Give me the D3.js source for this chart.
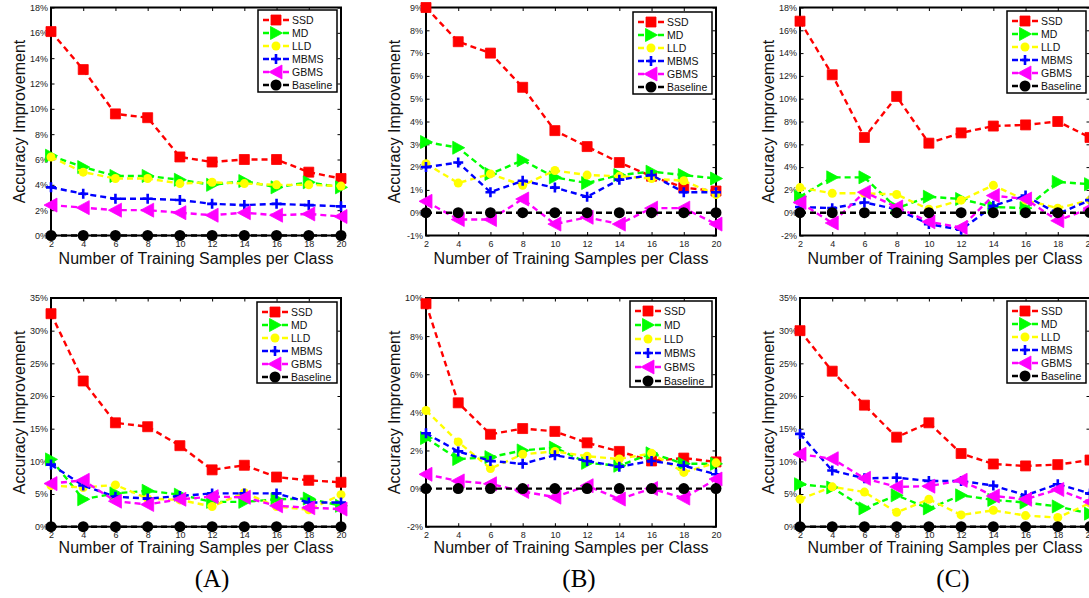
<!DOCTYPE html>
<html>
<head>
<meta charset="utf-8">
<script src="https://cdn.jsdelivr.net/npm/d3@7"></script>
<style>
  html, body { margin: 0; padding: 0; background: #fff; }
  svg { display: block; }
</style>
</head>
<body>
<svg id="chart" width="1089" height="598"></svg>
<script>
// ---------------- DATA ----------------
const xSamples = [2, 4, 6, 8, 10, 12, 14, 16, 18, 20];
const seriesNames = ["SSD", "MD", "LLD", "MBMS", "GBMS", "Baseline"];
const panelLabels = ["(A)", "(B)", "(C)"];
const xAxisTitle = "Number of Training Samples per Class";
const yAxisTitle = "Accuracy Improvement";

// series order: SSD, MD, LLD, MBMS, GBMS, Baseline (values in %)
const topA = [
  [16.1, 13.1, 9.6, 9.3, 6.2, 5.8, 6.0, 6.0, 5.0, 4.5],
  [6.3, 5.4, 4.7, 4.7, 4.4, 4.0, 4.3, 3.8, 4.2, 3.8],
  [6.2, 5.0, 4.5, 4.5, 4.1, 4.2, 4.1, 4.0, 4.0, 3.9],
  [3.8, 3.3, 2.9, 2.9, 2.8, 2.5, 2.4, 2.5, 2.4, 2.3],
  [2.4, 2.2, 2.0, 2.0, 1.8, 1.6, 1.8, 1.6, 1.7, 1.5],
  [0, 0, 0, 0, 0, 0, 0, 0, 0, 0]
];
const topB = [
  [9.0, 7.5, 7.0, 5.5, 3.6, 2.9, 2.2, 1.6, 1.1, 0.95],
  [3.1, 2.85, 1.7, 2.3, 1.55, 1.3, 1.65, 1.8, 1.65, 1.5],
  [2.15, 1.3, 1.7, 1.2, 1.85, 1.65, 1.6, 1.5, 1.4, 0.8],
  [2.0, 2.2, 0.9, 1.4, 1.1, 0.7, 1.45, 1.65, 0.9, 0.9],
  [0.5, -0.3, -0.3, 0.6, -0.5, -0.2, -0.5, 0.2, 0.2, -0.5],
  [0, 0, 0, 0, 0, 0, 0, 0, 0, 0]
];
const topC = [
  [16.8, 12.1, 6.6, 10.2, 6.1, 7.0, 7.6, 7.7, 8.0, 6.6],
  [1.4, 3.1, 3.1, 0.4, 1.4, 1.2, 0.5, 0.4, 2.7, 2.5],
  [2.2, 1.7, 1.7, 1.6, 0.3, 1.1, 2.4, 1.1, 0.4, 1.1],
  [0.5, 0.4, 0.9, 0.3, -1.0, -1.5, 0.6, 1.5, -0.1, 1.1],
  [0.9, -0.9, 1.8, 0.5, -0.8, -1.3, 1.5, 1.2, -0.7, 0.4],
  [0, 0, 0, 0, 0, 0, 0, 0, 0, 0]
];
const botA = [
  [32.6, 22.3, 15.9, 15.3, 12.4, 8.7, 9.4, 7.6, 7.1, 6.8],
  [10.3, 4.2, 5.1, 5.5, 4.9, 3.8, 3.8, 4.2, 4.3, 3.2],
  [6.3, 6.0, 6.4, 4.3, 4.1, 3.1, 5.2, 3.1, 2.6, 4.9],
  [9.5, 6.3, 4.6, 4.3, 4.7, 5.1, 5.1, 5.1, 3.7, 3.7],
  [6.6, 7.1, 3.9, 3.4, 4.2, 4.6, 4.5, 3.2, 2.9, 2.7],
  [0, 0, 0, 0, 0, 0, 0, 0, 0, 0]
];
const botB = [
  [9.7, 4.5, 2.85, 3.15, 3.0, 2.4, 1.95, 1.45, 1.6, 1.4],
  [2.65, 1.55, 1.65, 2.0, 2.15, 1.35, 1.2, 1.85, 1.3, 1.3],
  [4.1, 2.45, 1.05, 1.8, 1.95, 1.7, 1.55, 1.85, 0.85, 1.35],
  [2.9, 1.95, 1.45, 1.3, 1.75, 1.45, 1.15, 1.45, 1.2, 0.75],
  [0.75, 0.4, 0.25, -0.15, -0.45, 0.15, -0.55, 0.0, -0.5, 0.5],
  [0, 0, 0, 0, 0, 0, 0, 0, 0, 0]
];
const botC = [
  [30.0, 23.8, 18.6, 13.7, 15.9, 11.2, 9.6, 9.3, 9.5, 10.2],
  [6.5, 6.0, 2.8, 4.8, 2.8, 4.8, 4.1, 3.7, 3.1, 2.0],
  [4.2, 6.1, 5.3, 2.2, 4.2, 1.8, 2.5, 1.7, 1.4, 3.6],
  [14.2, 8.6, 7.4, 7.5, 7.0, 7.0, 6.3, 4.8, 6.5, 5.1],
  [11.1, 10.4, 7.4, 6.1, 6.2, 7.1, 4.7, 4.2, 5.7, 3.8],
  [0, 0, 0, 0, 0, 0, 0, 0, 0, 0]
];

const yTicksTopA = [0, 2, 4, 6, 8, 10, 12, 14, 16, 18];
const yTicksTopB = [-1, 0, 1, 2, 3, 4, 5, 6, 7, 8, 9];
const yTicksTopC = [-2, 0, 2, 4, 6, 8, 10, 12, 14, 16, 18];
const yTicksBotA = [0, 5, 10, 15, 20, 25, 30, 35];
const yTicksBotB = [-2, 0, 2, 4, 6, 8, 10];
const yTicksBotC = [0, 5, 10, 15, 20, 25, 30, 35];

// ---------------- STYLE / LAYOUT ----------------
const colors = ["#ff0000", "#00ff00", "#ffff00", "#0000ff", "#ff00ff", "#000000"];
const plotW = 290;
const colLeft = [51, 426, 800];
const rowTop = [7.5, 298];
const rowBottom = [235.5, 526.7];

const panels = [
  { data: topA, ticks: yTicksTopA, col: 0, row: 0, leg: { dx: 83, y: 10, h: 82, step: 13 } },
  { data: topB, ticks: yTicksTopB, col: 1, row: 0, leg: { dx: 83, y: 12, h: 82, step: 13 } },
  { data: topC, ticks: yTicksTopC, col: 2, row: 0, leg: { dx: 83, y: 11, h: 82, step: 13 } },
  { data: botA, ticks: yTicksBotA, col: 0, row: 1, leg: { dx: 84, y: 302, h: 81, step: 13 } },
  { data: botB, ticks: yTicksBotB, col: 1, row: 1, leg: { dx: 86, y: 301, h: 86, step: 14 } },
  { data: botC, ticks: yTicksBotC, col: 2, row: 1, leg: { dx: 83, y: 301, h: 82, step: 13 } }
];

const svg = d3.select("#chart");
svg.append("rect").attr("width", 1089).attr("height", 598).attr("fill", "#fff");

function markerPath(i) {
  switch (i) {
    case 0: return "M-5,-5H5V5H-5Z";
    case 1: return "M-5.5,-6.5L6.5,0L-5.5,6.5Z";
    case 3: return "M-5,0H5M0,-5V5";
    case 4: return "M6,-7L-7,0L6,7Z";
    default: return null;
  }
}

function drawMarker(g, i, x, y) {
  const c = colors[i];
  if (i === 2) {
    g.append("circle").attr("cx", x).attr("cy", y).attr("r", 4.5).attr("fill", c);
  } else if (i === 5) {
    g.append("circle").attr("cx", x).attr("cy", y).attr("r", 5.5).attr("fill", c);
  } else if (i === 3) {
    g.append("path").attr("transform", `translate(${x},${y})`).attr("d", markerPath(i))
      .attr("fill", "none").attr("stroke", c).attr("stroke-width", 2.6);
  } else {
    g.append("path").attr("transform", `translate(${x},${y})`).attr("d", markerPath(i))
      .attr("fill", c).attr("stroke", c).attr("stroke-width", 0.8).attr("stroke-linejoin", "miter");
  }
}

const fontSans = "'Liberation Sans', Arial, Helvetica, sans-serif";

panels.forEach(p => {
  const left = colLeft[p.col];
  const right = left + plotW;
  const top = rowTop[p.row];
  const bottom = rowBottom[p.row];
  const ymin = p.ticks[0], ymax = p.ticks[p.ticks.length - 1];

  const x = d3.scaleLinear().domain([2, 20]).range([left, right]);
  const y = d3.scaleLinear().domain([ymin, ymax]).range([bottom, top]);

  const g = svg.append("g");

  // axes (ticks inside, all four sides)
  const axB = d3.axisBottom(x).tickValues(xSamples).tickSize(-3.5).tickPadding(5).tickFormat(d3.format("d"));
  const axT = d3.axisTop(x).tickValues(xSamples).tickSize(-3.5).tickFormat("");
  const axL = d3.axisLeft(y).tickValues(p.ticks).tickSize(-3.5).tickPadding(3).tickFormat(d => d + "%");
  const axR = d3.axisRight(y).tickValues(p.ticks).tickSize(-3.5).tickFormat("");

  [[axB, `translate(0,${bottom})`], [axT, `translate(0,${top})`],
   [axL, `translate(${left},0)`], [axR, `translate(${right},0)`]].forEach(([ax, tr]) => {
    const a = g.append("g").attr("transform", tr).call(ax);
    a.select(".domain").remove();
    a.selectAll(".tick line").attr("stroke", "#000").attr("stroke-width", 1);
    a.selectAll(".tick text").attr("fill", "#222").style("font-family", fontSans).style("font-size", "9px");
  });

  // frame
  g.append("rect").attr("x", left).attr("y", top).attr("width", plotW).attr("height", bottom - top)
    .attr("fill", "none").attr("stroke", "#000").attr("stroke-width", 2);

  // axis titles
  g.append("text").attr("x", (left + right) / 2).attr("y", bottom + (p.row === 0 ? 28 : 26.5))
    .attr("text-anchor", "middle").style("font-family", fontSans).style("font-size", "16px")
    .attr("fill", "#111").text(xAxisTitle);
  g.append("text").attr("transform", `translate(${left - 26},${(top + bottom) / 2}) rotate(-90)`)
    .attr("text-anchor", "middle").style("font-family", fontSans).style("font-size", "16px")
    .attr("fill", "#111").text(yAxisTitle);

  // series
  const line = d3.line().x((d, k) => x(xSamples[k])).y(d => y(d));
  p.data.forEach((vals, i) => {
    const sg = g.append("g");
    sg.append("path").attr("d", line(vals)).attr("fill", "none").attr("stroke", colors[i])
      .attr("stroke-width", 2.4).attr("stroke-dasharray", "6,4");
    vals.forEach((v, k) => drawMarker(sg, i, x(xSamples[k]), y(v)));
  });

  // legend
  const L = p.leg;
  const lx = right - L.dx;
  const lw = L.dx - 4;
  const lg = g.append("g");
  lg.append("rect").attr("x", lx).attr("y", L.y).attr("width", lw).attr("height", L.h)
    .attr("fill", "#fff").attr("stroke", "#000").attr("stroke-width", 1.5);
  seriesNames.forEach((name, i) => {
    const ry = L.y + 10 + i * L.step;
    lg.append("line").attr("x1", lx + 5).attr("x2", lx + 31).attr("y1", ry).attr("y2", ry)
      .attr("stroke", colors[i]).attr("stroke-width", 2.4).attr("stroke-dasharray", "6,4");
    drawMarker(lg, i, lx + 18, ry);
    lg.append("text").attr("x", lx + 34).attr("y", ry + 3.8).style("font-family", fontSans)
      .style("font-size", "10.5px").attr("fill", "#111").text(name);
  });
});

// panel labels
const labelX = [212, 579, 953];
panelLabels.forEach((t, i) => {
  svg.append("text").attr("x", labelX[i]).attr("y", 586.5).attr("text-anchor", "middle")
    .style("font-family", "'Liberation Serif', 'Times New Roman', serif").style("font-size", "25px")
    .attr("fill", "#000").text(t);
});
</script>
</body>
</html>
